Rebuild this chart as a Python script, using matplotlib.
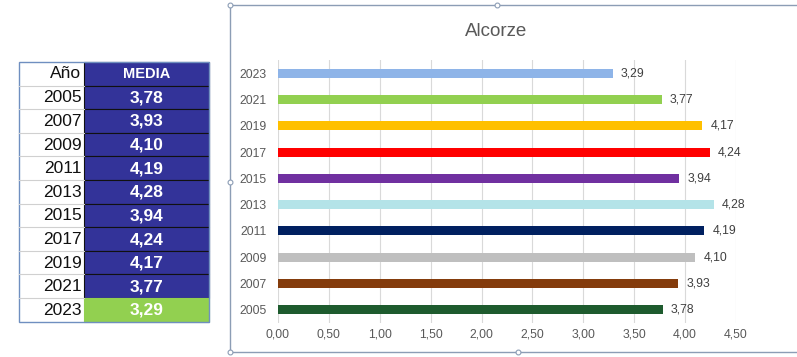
import matplotlib

matplotlib.use("Agg")
import matplotlib.pyplot as plt  # noqa: E402
from matplotlib.patches import Rectangle  # noqa: E402

plt.rcParams["font.family"] = ["Liberation Sans", "DejaVu Sans"]

years = ["2005", "2007", "2009", "2011", "2013", "2015", "2017", "2019", "2021", "2023"]
media = [3.78, 3.93, 4.10, 4.19, 4.28, 3.94, 4.24, 4.17, 3.77, 3.29]
bar_colors = ["#1e5b2e", "#843c0c", "#bfbfbf", "#002060", "#b4e3e8",
              "#7030a0", "#ff0000", "#ffc000", "#92d050", "#8eb4e8"]
x_ticks = [0.0, 0.5, 1.0, 1.5, 2.0, 2.5, 3.0, 3.5, 4.0, 4.5]
title = "Alcorze"

W, H = 797, 357
fig = plt.figure(figsize=(W / 100, H / 100), dpi=100)
fig.patch.set_facecolor("white")


def fmt(v):
    return f"{v:.2f}".replace(".", ",")


# overlay in pixel coordinates for the table and chart frame
over = fig.add_axes([0, 0, 1, 1])
over.set_xlim(0, W)
over.set_ylim(H, 0)
over.axis("off")

# chart frame
over.add_patch(Rectangle((230, 5), 600, 347, fill=False, edgecolor="#8c9db5", lw=1.0))
for hx, hy in [(497, 5), (230, 182), (518, 352), (230, 352), (230, 5)]:
    over.plot(hx, hy, marker="o", ms=3.5, mfc="white", mec="#8c9db5", mew=0.8)

# table
tx0, tx1, tx2 = 19, 84, 209
ty0, row_h = 62, 23.6
over.text(tx1 - 3, ty0 + row_h / 2, "Año", ha="right", va="center",
          fontsize=12.5, color="#111111")
over.add_patch(Rectangle((tx1, ty0), tx2 - tx1, row_h, facecolor="#333399",
                         edgecolor="#111111", lw=0.8))
over.text((tx1 + tx2) / 2, ty0 + row_h / 2, "MEDIA", ha="center", va="center",
          fontsize=10.5, color="white", fontweight="bold")
for i, (yr, v) in enumerate(zip(years, media)):
    y = ty0 + row_h * (i + 1)
    last = i == len(years) - 1
    over.plot([tx0, tx1], [y, y], color="#d0d0d0", lw=0.8)
    over.add_patch(Rectangle((tx1, y), tx2 - tx1, row_h,
                             facecolor="#92d050" if last else "#333399",
                             edgecolor="#92d050" if last else "#111111", lw=0.8))
    over.text(tx1 - 2, y + row_h / 2 + 0.5, yr, ha="right", va="center",
              fontsize=12.5, color="#111111")
    over.text((tx1 + tx2) / 2, y + row_h / 2 + 0.5, fmt(v), ha="center", va="center",
              fontsize=12.5, color="white", fontweight="bold")
over.add_patch(Rectangle((tx0, ty0), tx2 - tx0, row_h * 11, fill=False,
                         edgecolor="#6f8fc0", lw=1.0))

# bar chart
ax = fig.add_axes([278 / W, 1 - 323 / H, (736 - 278) / W, (323 - 60) / H])
ypos = list(range(len(years)))
ax.barh(ypos, media, height=0.34, color=bar_colors, edgecolor="none", zorder=3)
for yp, v in zip(ypos, media):
    ax.text(v + 0.08, yp, fmt(v), va="center", ha="left", fontsize=8.8, color="#404040")
ax.set_xlim(0, 4.5)
ax.set_ylim(-0.5, len(years) - 0.5)
ax.set_xticks(x_ticks)
ax.set_xticklabels([fmt(t) for t in x_ticks])
ax.set_yticks(ypos)
ax.set_yticklabels(years)
ax.tick_params(axis="both", length=0, labelsize=8.8, labelcolor="#595959")
ax.tick_params(axis="x", pad=4)
ax.tick_params(axis="y", pad=8)
ax.grid(axis="x", color="#d9d9d9", lw=0.8, zorder=0)
for s in ax.spines.values():
    s.set_visible(False)
ax.set_facecolor("none")

fig.text(496 / W, 1 - 32 / H, title, ha="center", va="center", fontsize=13.5, color="#595959")

fig.savefig("out.png", dpi=100, facecolor="white")
